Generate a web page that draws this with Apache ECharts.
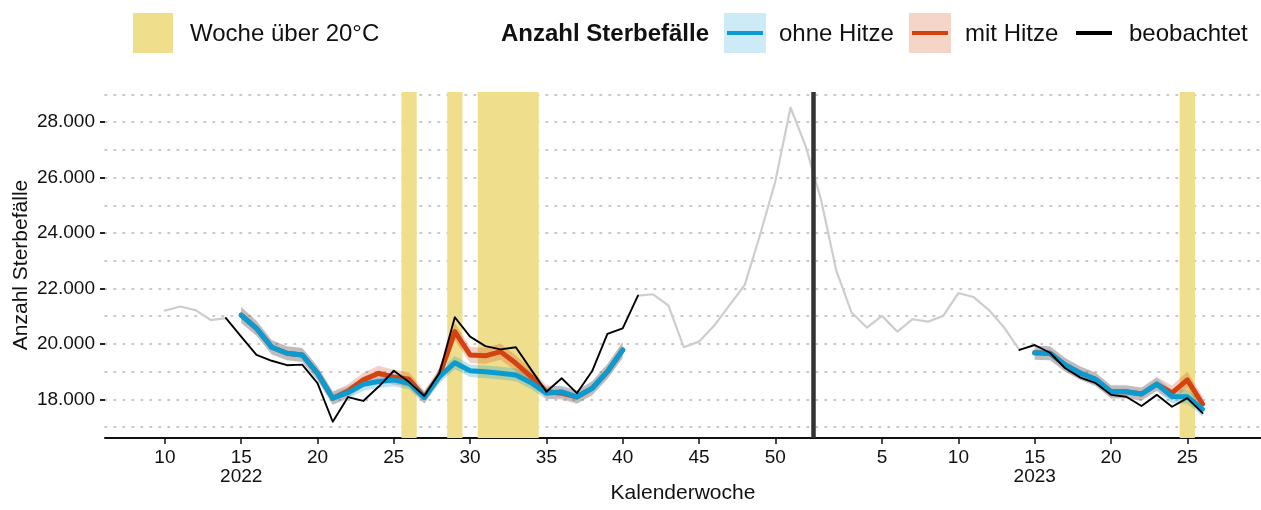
<!DOCTYPE html>
<html><head><meta charset="utf-8">
<script src="https://cdn.jsdelivr.net/npm/echarts@6/dist/echarts.min.js"></script>
<style>html,body{margin:0;padding:0;background:#fff}#c{width:1261px;height:510px}</style>
</head><body><div id="c"></div><script>
// ---- data (x = continuous week index: 2022 week w -> w, 2023 week w -> 52 + w)
const WEEKS_2022 = 52;
const obsStart2022 = 10;
const observed2022 = [21200,21350,21220,20860,20930,20260,19600,19390,19230,19250,
  18580,17190,18080,17940,18450,19030,18620,18120,18960,20960,
  20260,19920,19800,19880,19070,18270,18760,18220,19020,20360,
  20560,21740,21790,21380,19880,20080,20660,21400,22130,23930,
  25860,28530,27120];
const obsStart2023 = 1;
const observed2023 = [25200,22640,21130,20590,21010,20440,20890,20800,21010,21830,
  21690,21220,20590,19780,19960,19680,19120,18780,18580,18160,
  18090,17760,18160,17730,18040,17500];
// weeks shown in black (observed within model period)
const blackRange2022 = [14, 41];
const blackRange2023 = [14, 26];
// model weeks
const modelStart2022 = 15;
const ohneHitze2022 = [21040,20560,19880,19660,19600,18940,18040,18240,18540,18640,
  18700,18580,18060,18820,19320,19030,18990,18940,18880,18600,
  18220,18270,18090,18400,19000,19780];
const mitHitze2022 = [21040,20560,19880,19660,19600,18940,18040,18300,18700,18940,
  18800,18720,18080,18880,20440,19600,19570,19720,19300,18820,
  18270,18220,18080,18400,19000,19780];
const ohneSpread2022 = [290,270,260,250,250,250,240,230,230,230,230,230,220,230,240,230,230,230,230,230,230,230,240,250,270,290];
const mitSpread2022 = [290,270,260,250,250,250,240,240,260,270,270,260,230,260,310,290,290,290,280,270,240,240,240,250,270,290];
const modelStart2023 = 15;
const ohneHitze2023 = [19680,19660,19240,18940,18720,18270,18270,18190,18550,18100,18090,17640];
const mitHitze2023 = [19680,19660,19240,18940,18720,18270,18270,18190,18550,18230,18700,17830];
const ohneSpread2023 = [250,250,250,240,240,230,230,230,240,240,250,260];
const mitSpread2023 = [250,250,250,240,240,240,240,240,250,270,290,280];
// weeks above 20°C
const heatWeeks2022 = [26,29,31,32,33,34];
const heatWeeks2023 = [25];
// axis ticks
const xTickWeeks2022 = [10,15,20,25,30,35,40,45,50];
const xTickWeeks2023 = [5,10,15,20,25];
const yearLabelWeek = 15;
const yTicks = [18000,20000,22000,24000,26000,28000];
const yGrid = [17000,18000,19000,20000,21000,22000,23000,24000,25000,26000,27000,28000,29000];

// ---- helpers
const t23 = w => WEEKS_2022 + w;
const FONT = '"Liberation Sans", Arial, sans-serif';
function pts(startT, vals, from, to) {
  const out = [];
  vals.forEach((v, i) => { const t = startT + i; if (t >= from && t <= to) out.push([t, v]); });
  return out;
}
const obsT2023 = t23(obsStart2023);
const xTicks = xTickWeeks2022.concat(xTickWeeks2023.map(t23));

function heatRuns() {
  const ts = heatWeeks2022.concat(heatWeeks2023.map(t23)).sort((a,b)=>a-b);
  const runs = [];
  ts.forEach(t => {
    const last = runs[runs.length-1];
    if (last && last[1] === t - 1) last[1] = t; else runs.push([t, t]);
  });
  return runs.map(r => [{xAxis: r[0] - 0.5}, {xAxis: r[1] + 0.5}]);
}

function lineS(name, data, color, width, z) {
  return {type:'line', name, data, symbol:'none', z, silent:true, animation:false,
    lineStyle:{color, width, join:'round', cap:'round'}};
}
function bandS(name, startT, vals, spread, color) {
  const data = vals.map((v,i)=>[startT + i, v - spread[i], v + spread[i]]);
  return {type:'custom', name, data, z:3, silent:true, clip:true, animation:false,
    encode:{x:0, y:[1,2]},
    renderItem(params, api) {
      if (params.dataIndex !== 0) return null;
      const up = data.map(d => api.coord([d[0], d[2]]));
      const lo = data.map(d => api.coord([d[0], d[1]])).reverse();
      return {type:'polygon', shape:{points: up.concat(lo)}, style:{fill: color}};
    }};
}

const BLUE = '#0a9bd0', RED = '#d4420f', GRAY = '#cdcdcd', YEL = '#efdf8c';
const BLUE_BAND = 'rgba(0,150,210,0.26)', RED_BAND = 'rgba(205,60,20,0.24)';
const fmtY = v => String(v).replace(/\B(?=(\d{3})+(?!\d))/g, '.');

const chart = echarts.init(document.getElementById('c'), null, {renderer:'canvas'});
chart.setOption({
  animation:false,
  backgroundColor:'#fff',
  grid:{left:105, right:0, top:92, bottom:72, containLabel:false, outerBoundsMode:'none'},
  xAxis:{type:'value', min:6.075, max:81.83,
    name:'Kalenderwoche', nameLocation:'middle', nameGap:45, nameMoveOverlap:false,
    nameTextStyle:{fontFamily:FONT, fontSize:21, color:'#111'},
    axisLine:{show:true, onZero:false, lineStyle:{color:'#111', width:2}},
    axisTick:{show:true, length:6, customValues:xTicks, lineStyle:{color:'#111', width:1.5}},
    axisLabel:{customValues:xTicks, margin:10, fontFamily:FONT, fontSize:19, color:'#111', lineHeight:19,
      formatter: v => {
        const wk = v > WEEKS_2022 ? v - WEEKS_2022 : v;
        if (v === yearLabelWeek) return wk + '\n2022';
        if (v === t23(yearLabelWeek)) return wk + '\n2023';
        return String(wk);
      }},
    splitLine:{show:false}},
  yAxis:[
    {type:'value', min:16603, max:29090,
      name:'Anzahl Sterbefälle', nameLocation:'middle', nameGap:73, nameMoveOverlap:false,
      nameTextStyle:{fontFamily:FONT, fontSize:21, color:'#111'},
      axisLine:{show:false},
      axisTick:{show:true, length:5, customValues:yTicks, lineStyle:{color:'#222', width:2}},
      axisLabel:{customValues:yTicks, margin:10, fontFamily:FONT, fontSize:19, color:'#111', formatter:fmtY},
      splitLine:{show:false}},
    {type:'value', min:16603, max:29090, position:'left',
      axisLine:{show:false}, axisTick:{show:false, customValues:yGrid}, axisLabel:{show:false},
      splitLine:{show:true, lineStyle:{color:'#b4b4b4', width:1.6, type:[1.6,7.4], cap:'round'}}}
  ],
  series:[
    {type:'line', name:'Woche über 20°C', data:[], z:1, silent:true,
      markArea:{silent:true, itemStyle:{color:YEL, opacity:1}, data:heatRuns()}},
    bandS('ohne band 2022', modelStart2022, ohneHitze2022, ohneSpread2022, BLUE_BAND),
    bandS('mit band 2022', modelStart2022, mitHitze2022, mitSpread2022, RED_BAND),
    bandS('ohne band 2023', t23(modelStart2023), ohneHitze2023, ohneSpread2023, BLUE_BAND),
    bandS('mit band 2023', t23(modelStart2023), mitHitze2023, mitSpread2023, RED_BAND),
    lineS('gray a', pts(obsStart2022, observed2022, 0, blackRange2022[0]), GRAY, 2.2, 4),
    lineS('gray b', pts(obsStart2022, observed2022, blackRange2022[1], 99).concat(
      pts(obsT2023, observed2023, 0, t23(blackRange2023[0]))), GRAY, 2.2, 4),
    lineS('mit Hitze 2022', pts(modelStart2022, mitHitze2022, 0, 999), RED, 5, 5),
    lineS('mit Hitze 2023', pts(t23(modelStart2023), mitHitze2023, 0, 999), RED, 5, 5),
    lineS('ohne Hitze 2022', pts(modelStart2022, ohneHitze2022, 0, 999), BLUE, 5, 6),
    lineS('ohne Hitze 2023', pts(t23(modelStart2023), ohneHitze2023, 0, 999), BLUE, 5, 6),
    lineS('beobachtet 2022', pts(obsStart2022, observed2022, blackRange2022[0], blackRange2022[1]), '#000', 1.9, 7),
    lineS('beobachtet 2023', pts(obsT2023, observed2023, t23(blackRange2023[0]), t23(blackRange2023[1])), '#000', 1.9, 7),
    {type:'line', name:'Jahreswechsel', data:[], z:9, silent:true,
      markLine:{silent:true, symbol:'none', label:{show:false},
        lineStyle:{color:'#333', width:4.5, type:'solid'},
        data:[{xAxis: WEEKS_2022 + 0.5}]}}
  ],
  graphic:[
    {type:'rect', x:133, y:13, shape:{width:40, height:40}, style:{fill:YEL}},
    {type:'text', x:190, y:34, style:{text:'Woche über 20°C', fontFamily:FONT, fontSize:24, fill:'#111', verticalAlign:'middle', align:'left'}},
    {type:'text', x:709, y:34, style:{text:'Anzahl Sterbefälle', fontFamily:FONT, fontSize:24, fontWeight:'bold', fill:'#111', verticalAlign:'middle', align:'right'}},
    {type:'rect', x:724, y:13, shape:{width:42, height:40}, style:{fill:'#cdebf6'}},
    {type:'line', shape:{x1:727, y1:33, x2:763, y2:33}, style:{stroke:BLUE, lineWidth:4}},
    {type:'text', x:779, y:34, style:{text:'ohne Hitze', fontFamily:FONT, fontSize:24, fill:'#111', verticalAlign:'middle', align:'left'}},
    {type:'rect', x:909, y:13, shape:{width:42, height:40}, style:{fill:'#f6d5c9'}},
    {type:'line', shape:{x1:912, y1:33, x2:948, y2:33}, style:{stroke:RED, lineWidth:4}},
    {type:'text', x:965, y:34, style:{text:'mit Hitze', fontFamily:FONT, fontSize:24, fill:'#111', verticalAlign:'middle', align:'left'}},
    {type:'line', shape:{x1:1076, y1:33, x2:1112, y2:33}, style:{stroke:'#000', lineWidth:4}},
    {type:'text', x:1129, y:34, style:{text:'beobachtet', fontFamily:FONT, fontSize:24, fill:'#111', verticalAlign:'middle', align:'left'}}
  ]
});
</script></body></html>
